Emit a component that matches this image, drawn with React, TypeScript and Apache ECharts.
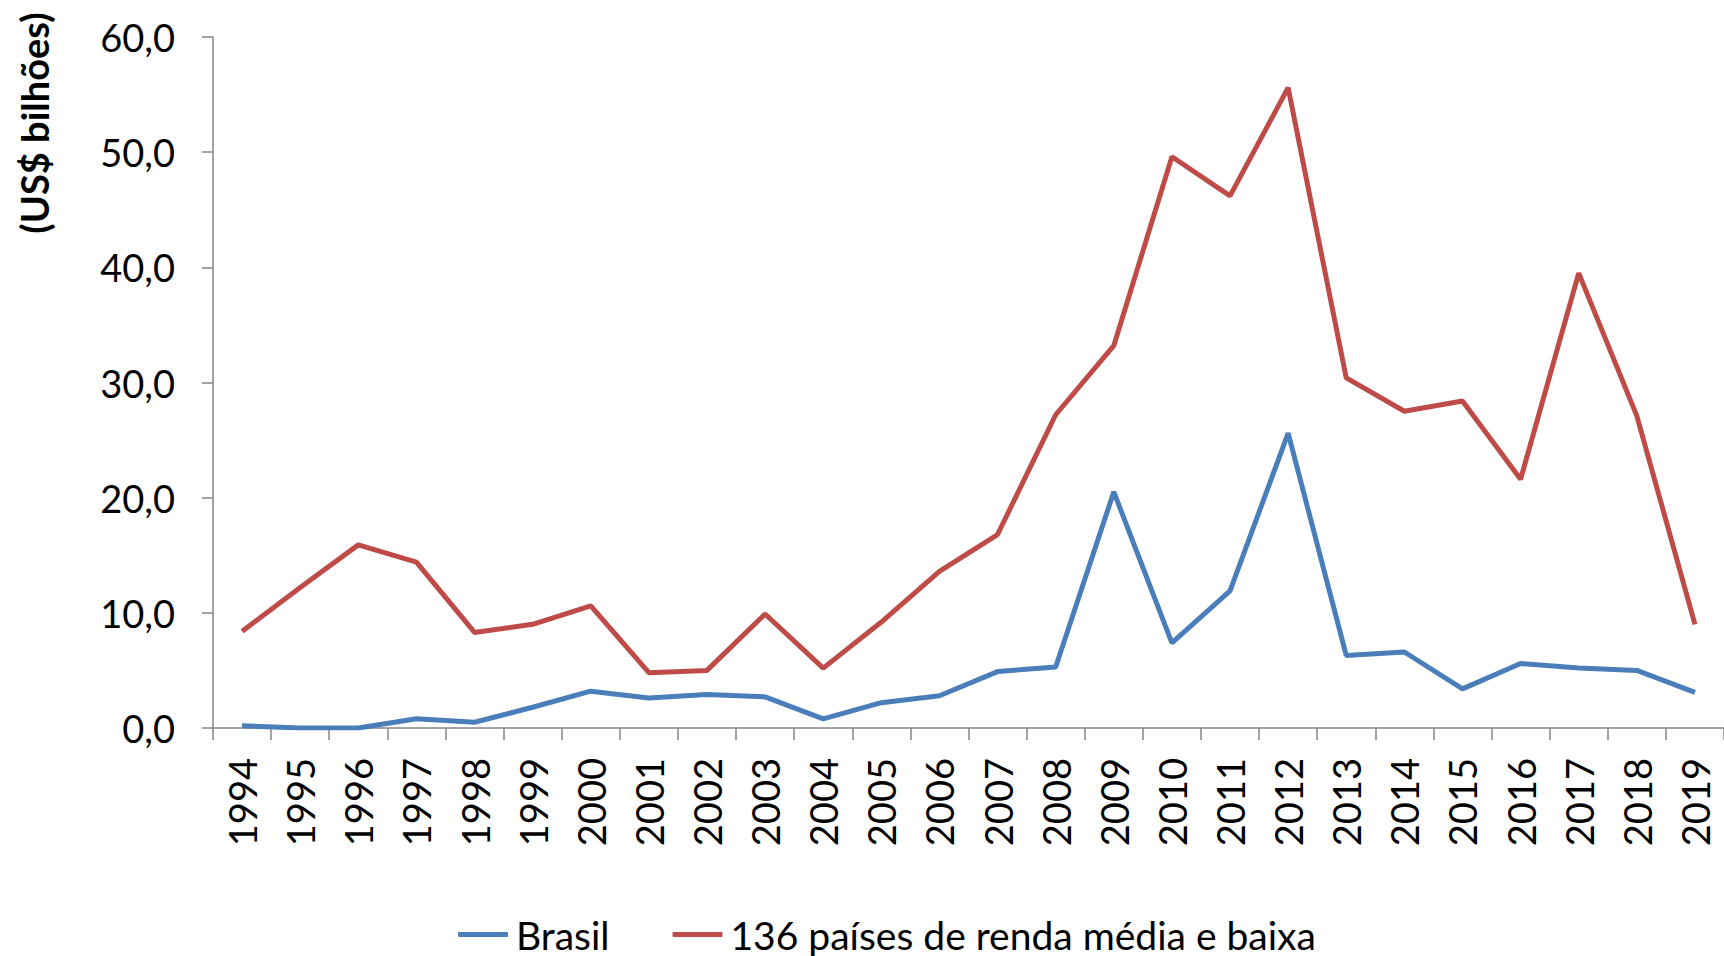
import React, { useEffect, useRef } from "react";
import * as echarts from "echarts";

const years = ["1994","1995","1996","1997","1998","1999","2000","2001","2002","2003","2004","2005","2006","2007","2008","2009","2010","2011","2012","2013","2014","2015","2016","2017","2018","2019"];
const brasil = [0.2, 0.0, 0.0, 0.8, 0.5, 1.8, 3.2, 2.6, 2.9, 2.7, 0.8, 2.2, 2.8, 4.9, 5.3, 20.5, 7.4, 11.9, 25.6, 6.3, 6.6, 3.4, 5.6, 5.2, 5.0, 3.1];
const paises = [8.4, 12.2, 15.9, 14.4, 8.3, 9.0, 10.6, 4.8, 5.0, 9.9, 5.2, 9.2, 13.6, 16.8, 27.2, 33.2, 49.6, 46.2, 55.6, 30.4, 27.5, 28.4, 21.6, 39.5, 27.1, 9.0];
const seriesNames = ["Brasil", "136 países de renda média e baixa"];
const yTitle = "(US$ bilhões)";

const FONT = "Lato, 'Open Sans', sans-serif";

export default function App() {
  const ref = useRef<HTMLDivElement>(null);
  useEffect(() => {
    if (!ref.current) return;
    const chart = echarts.init(ref.current, null, { renderer: "svg" });
    chart.setOption({
      animation: false,
      backgroundColor: "#ffffff",
      textStyle: { fontFamily: FONT },
      grid: { left: 213, right: 0, top: 37, bottom: 228, containLabel: false },
      legend: {
        left: 453,
        top: 910,
        icon: "roundRect",
        itemWidth: 50,
        itemHeight: 5,
        itemGap: 63,
        textStyle: { fontFamily: FONT, fontSize: 39, color: "#000", padding: [0, 0, 0, 3] },
        data: seriesNames,
      },
      xAxis: {
        type: "category",
        data: years,
        boundaryGap: true,
        axisLine: { lineStyle: { color: "#868686", width: 1.5 } },
        axisTick: { show: true, length: 12, alignWithLabel: false, lineStyle: { color: "#868686", width: 1.5 } },
        axisLabel: { rotate: 90, margin: 30, fontSize: 38, color: "#000", fontFamily: FONT, interval: 0 },
        splitLine: { show: false },
      },
      yAxis: {
        type: "value",
        min: 0,
        max: 60,
        interval: 10,
        axisLine: { show: true, lineStyle: { color: "#868686", width: 1.5 } },
        axisTick: { show: true, length: 11, lineStyle: { color: "#868686", width: 1.5 } },
        axisLabel: {
          margin: 38,
          fontSize: 38,
          color: "#000",
          fontFamily: FONT,
          formatter: (v: number) => v.toFixed(1).replace(".", ","),
        },
        splitLine: { show: false },
      },
      graphic: [
        {
          type: "text",
          x: 34,
          y: 123,
          rotation: Math.PI / 2,
          style: {
            text: yTitle,
            fontFamily: FONT,
            fontSize: 38,
            fontWeight: "bold",
            fill: "#000",
            textAlign: "center",
            textVerticalAlign: "middle",
          },
        },
      ],
      series: [
        {
          name: seriesNames[0],
          type: "line",
          data: brasil,
          symbol: "none",
          lineStyle: { color: "#4A7EBB", width: 5 },
          itemStyle: { color: "#4A7EBB" },
        },
        {
          name: seriesNames[1],
          type: "line",
          data: paises,
          symbol: "none",
          lineStyle: { color: "#BE4B48", width: 5 },
          itemStyle: { color: "#BE4B48" },
        },
      ],
    });
    return () => chart.dispose();
  }, []);
  return (
    <div
      ref={ref}
      style={{ position: "fixed", left: 0, top: 0, width: 1724, height: 956 }}
    />
  );
}
